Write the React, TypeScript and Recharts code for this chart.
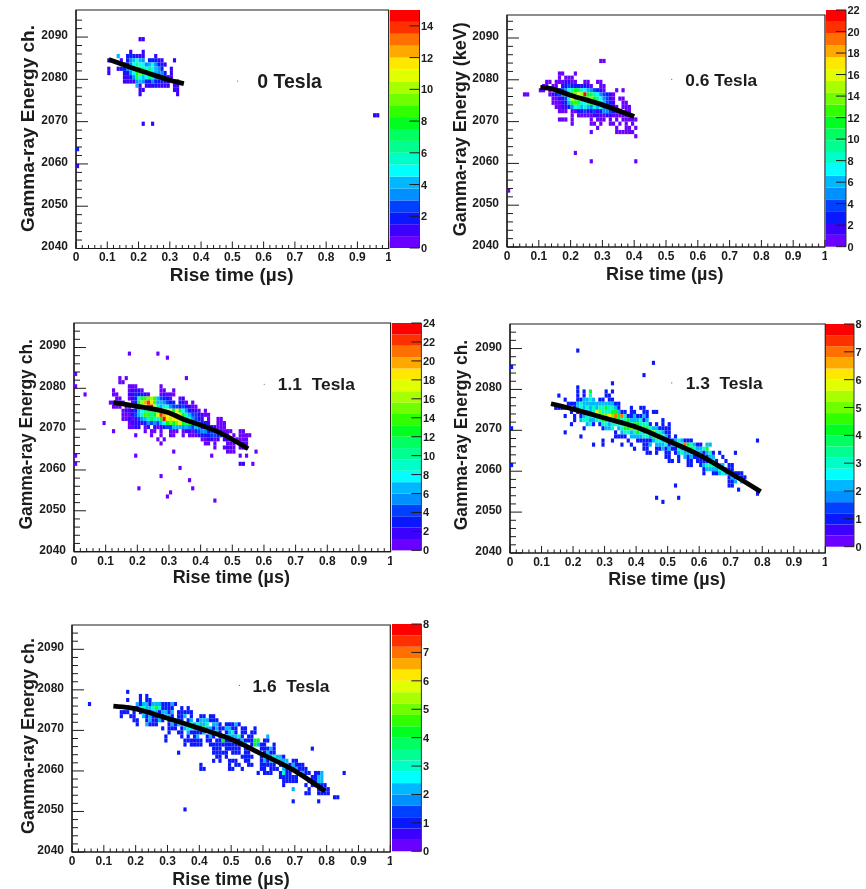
import React from 'react';
import { ScatterChart, Scatter, XAxis, YAxis, ReferenceArea, ReferenceDot, BarChart, Bar } from 'recharts';

// Each row: energy bin, then risetime-bin:count pairs (bin = hundredths of a microsecond)
const cells0T = [
  '2089 20:1 21:1', '2086 17:1 21:1', '2085 13:4 16:2 17:2 18:2 19:1 20:1 21:1 25:1',
  '2084 10:1 14:1 16:2 17:3 18:4 19:5 20:4 21:3 23:2 24:2 25:2 26:1 27:1 31:1',
  '2083 15:1 16:2 17:3 18:5 19:6 20:5 21:5 22:3 23:4 24:5 25:3 26:2 27:2 28:1',
  '2082 10:1 13:1 14:2 15:2 16:3 17:4 18:5 19:7 20:7 21:6 22:5 23:6 24:5 25:4 26:3 27:2 30:1',
  '2081 10:1 15:1 16:2 17:3 18:5 19:8 20:9 21:7 22:7 23:8 24:6 25:4 26:3 27:3 28:2 30:1',
  '2080 15:1 16:1 17:2 18:3 19:7 20:5 21:4 22:5 23:6 24:6 25:3 26:3 27:2 28:2 29:1 30:1',
  '2079 15:1 16:1 17:1 18:1 19:3 20:4 21:3 22:2 23:2 24:3 25:2 26:2 27:2 28:2 29:1 31:1 32:1',
  '2078 19:4 20:1 22:1 23:1 24:1 25:2 26:1 27:1 28:1 29:1 31:1 32:1',
  '2077 20:1 21:1 31:1 32:1', '2076 20:1 32:1', '2071 95:2 96:1', '2069 21:1 24:1', '2063 0:2', '2059 0:1',
];
const cells06T = [
  '2084 29:1 30:1', '2081 16:1 17:1 21:1', '2080 16:1 18:1 19:1 20:1',
  '2079 12:1 13:1 15:1 16:1 17:1 18:2 19:2 20:1 21:1 24:1 25:1 28:1 29:1',
  '2078 11:1 12:1 14:1 15:1 17:2 18:3 19:4 20:3 21:3 22:3 23:2 24:3 25:2 26:1 29:1 30:1',
  '2077 10:1 11:1 13:1 15:2 16:3 17:4 18:5 19:7 20:9 21:11 22:10 23:8 24:7 25:6 26:5 27:4 28:3 29:2 30:1 34:1 36:1',
  '2076 5:1 6:1 13:1 14:2 15:3 16:4 17:5 18:6 19:9 20:11 21:14 22:16 23:15 24:21 25:12 26:10 27:8 28:7 29:5 30:4 31:3 32:2 33:1',
  '2075 14:1 15:1 16:2 17:3 18:4 19:7 20:16 21:13 22:11 23:9 24:11 25:13 26:14 27:12 28:9 29:7 30:5 31:4 32:2 33:1 35:1 36:1',
  '2074 14:1 15:1 16:1 17:2 18:3 19:6 20:11 21:13 22:10 23:8 24:7 25:9 26:12 27:13 28:9 29:7 30:6 31:4 32:3 33:2 36:1 37:1',
  '2073 15:1 16:1 17:2 18:2 19:3 20:5 21:7 22:8 23:6 24:8 25:6 26:5 27:8 28:6 29:7 30:5 31:4 32:3 33:2 34:1 36:1 37:1 38:1',
  '2072 16:1 17:1 18:1 20:1 21:1 22:3 23:3 24:4 25:2 26:3 27:4 28:2 29:3 30:5 31:5 32:4 33:3 34:2 35:1 37:1 38:1',
  '2071 20:1 22:1 23:1 24:1 25:1 26:1 27:2 28:2 29:2 30:1 31:2 32:2 33:1 34:1 35:1 36:1 37:1 38:1',
  '2070 16:1 17:1 18:1 20:1 26:1 28:1 29:1 30:1 32:1 34:1 36:1 37:1 38:1 39:1 40:1',
  '2069 20:1 26:1 27:1 29:1 32:1 33:1 35:1 37:1 39:1', '2068 28:1 34:1 37:1 38:1 40:1',
  '2067 26:1 34:1 35:1 36:1 37:1 38:1 39:1', '2066 40:1', '2062 21:1', '2060 26:1 40:1', '2053 0:1',
];
const cells11T = [
  '2088 17:1 26:1', '2087 29:1', '2083 0:1', '2082 14:1 16:1 35:1', '2081 14:1 15:1',
  '2080 0:1 17:1 18:1 19:1 27:1', '2079 12:1 17:1 18:2 19:2 20:2 21:1 27:1 28:1 31:1',
  '2078 3:1 12:1 13:1 17:2 18:2 19:3 20:3 21:3 22:2 23:1 27:1 28:2 29:1 30:1 31:1',
  '2077 13:1 14:1 17:1 18:2 19:3 20:9 21:13 22:14 23:15 24:16 25:14 26:6 27:4 28:3 29:3 30:1 33:1 34:2',
  '2076 11:1 12:1 13:2 14:1 15:1 18:1 19:3 20:13 21:16 22:20 23:22 24:18 25:14 26:7 27:6 28:5 29:4 30:3 31:3 33:3 34:2 35:1 37:1',
  '2075 12:1 13:1 14:1 16:1 17:1 19:4 20:8 21:13 22:17 23:22 24:23 25:17 26:9 27:7 28:9 29:8 30:5 31:4 32:4 33:3 34:4 35:2 36:2 37:1 38:1',
  '2074 15:1 16:2 17:2 18:2 19:3 20:6 21:8 22:10 23:10 24:11 25:13 26:14 27:17 28:16 29:18 30:17 31:12 32:17 33:12 34:8 35:5 36:3 37:2 38:2 39:1 41:1',
  '2073 15:1 16:1 17:1 18:3 19:4 20:6 21:9 22:14 23:14 24:10 25:13 26:17 27:22 28:20 29:18 30:18 31:17 32:19 33:19 34:12 35:9 36:6 37:4 38:4 39:2 40:2 41:1 42:1',
  '2072 15:1 16:1 17:2 18:1 19:2 20:4 21:5 22:7 23:9 24:11 25:9 26:9 27:13 28:23 29:18 30:16 31:18 32:18 33:16 34:14 35:12 36:9 37:5 38:4 39:3 40:2 42:1 45:1 46:1',
  '2071 9:1 17:1 18:2 19:2 20:3 21:2 22:3 23:5 24:4 25:5 26:4 27:6 28:8 29:12 30:15 31:13 32:15 33:18 34:12 35:10 36:12 37:9 38:8 39:5 40:3 41:3 42:2 45:1 46:1 47:1',
  '2070 17:1 18:1 19:2 20:2 22:1 23:2 25:2 26:1 27:2 28:3 29:4 30:4 31:6 32:6 33:7 34:5 35:6 36:5 37:4 38:6 39:5 40:4 41:3 42:2 43:2 44:2 45:1 46:1 47:1',
  '2069 12:1 22:1 24:1 25:1 27:1 30:1 31:1 32:1 34:1 35:2 36:2 37:1 38:3 39:4 40:5 41:5 42:3 43:4 44:3 45:2 46:2 47:1 48:1 49:1 52:1 53:1',
  '2068 19:1 24:1 27:1 30:1 31:1 34:1 36:1 37:1 38:1 39:2 40:3 41:3 42:3 43:4 44:4 45:3 46:3 47:2 48:2 50:1 52:1 53:1 54:1 55:1',
  '2067 26:1 28:1 40:1 41:1 42:2 43:2 44:1 45:2 47:2 48:2 49:1 51:1 52:1 53:1 54:1',
  '2066 27:1 41:1 42:1 44:1 48:1 49:1 50:1 52:1 53:2 54:1', '2065 44:1 47:1 48:2 49:2 50:1 52:1 53:2 54:1',
  '2064 31:1 48:1 49:1 50:1 57:1', '2063 0:1 19:1 43:1 52:1 54:1', '2061 0:1 52:2 53:2 56:1', '2060 33:1',
  '2058 27:1', '2057 36:1', '2055 20:1 37:1', '2054 30:1', '2053 29:1', '2052 44:1',
];
const cells13T = [
  '2089 21:1', '2086 45:1', '2085 0:1', '2083 42:1', '2081 32:1', '2080 21:1', '2079 21:1 23:1 25:4 30:1 32:1',
  '2078 15:1 21:1 23:1 25:3 30:1 31:1', '2077 17:1 21:1 22:1 23:2 24:2 25:3 26:2 28:1 29:1 31:1 32:1',
  '2076 18:1 19:1 20:1 21:2 22:3 23:2 24:2 25:2 26:2 27:2 28:2 29:2 30:2 31:2 32:2 33:1 34:1',
  '2075 14:1 15:1 16:1 17:1 20:1 21:2 22:3 23:2 24:3 25:2 26:3 27:2 28:3 29:3 30:4 31:3 32:3 33:2 34:1 38:1 41:1 42:1',
  '2074 19:1 21:1 22:2 23:3 24:2 25:2 26:3 27:6 28:5 29:3 30:3 31:3 32:4 33:4 34:2 35:1 36:1 38:1 39:1 42:1 43:1 45:1 46:1',
  '2073 17:1 20:1 22:1 23:2 24:3 25:3 26:3 27:4 28:4 29:5 30:5 31:6 32:5 33:7 34:4 35:7 36:3 37:1 38:1 39:2 40:1 41:1 42:2 43:1',
  '2072 20:1 22:2 23:3 24:3 25:2 26:2 27:3 28:3 29:4 30:4 31:4 32:4 33:5 34:4 35:3 36:3 37:4 38:2 39:2 40:2 41:3 42:1 43:2 48:1',
  '2071 19:1 24:2 25:3 26:1 28:1 29:3 30:3 31:2 32:3 33:3 34:3 35:3 36:3 37:3 38:3 39:4 40:4 41:3 42:3 43:3 44:1 46:1 48:1 50:1',
  '2070 0:1 23:1 29:1 30:2 31:2 32:3 34:2 35:3 36:4 37:4 38:5 39:4 40:6 41:4 42:4 43:4 44:3 45:2 46:2 47:1 48:1 49:1 50:1',
  '2069 17:1 33:1 35:2 36:3 37:3 38:2 39:3 40:4 41:3 42:2 43:3 44:4 45:5 46:3 47:3 48:2 49:1 50:1',
  '2068 22:1 33:1 34:1 35:1 36:1 38:2 39:2 40:2 41:2 42:3 43:3 44:2 45:4 46:7 47:4 48:3 49:2 50:1 52:1',
  '2067 29:1 32:1 37:1 40:1 41:1 42:1 43:1 44:1 45:2 46:3 47:3 48:2 49:2 50:1 51:1 52:2 53:3 54:2 55:1 56:1 57:1 78:1',
  '2066 26:1 29:1 35:1 38:1 42:1 43:1 44:2 46:2 47:2 48:2 49:3 50:1 51:2 52:2 53:2 54:3 55:7 56:4 57:3 58:2 59:1 60:1 62:2 63:2',
  '2065 39:1 42:1 43:1 46:1 47:1 48:2 49:1 50:2 51:1 52:1 53:3 54:2 55:3 56:3 57:4 58:3 59:2 60:2 61:3 62:4',
  '2064 43:1 44:1 46:1 49:1 50:1 52:1 53:2 54:3 55:2 56:2 57:2 58:3 59:3 60:2 61:1 62:2 63:3 64:1 66:1 71:1',
  '2063 49:1 50:1 53:1 55:2 56:1 57:2 58:1 59:1 60:1 62:1 63:2 64:2 67:1',
  '2062 50:1 51:1 53:1 56:1 57:1 59:1 60:1 61:1 62:1 63:1 64:3 65:1 68:1',
  '2061 0:1 56:1 57:1 60:1 61:2 62:3 63:3 64:3 65:2 66:2 67:2 69:1 70:1',
  '2060 61:1 62:2 63:2 64:2 65:2 66:3 67:2 68:2 69:1 70:1',
  '2059 61:1 64:1 65:1 66:2 67:3 68:2 69:2 70:1 71:1 72:1 73:1',
  '2058 69:1 70:2 71:1 72:2 73:1 74:1', '2057 69:1 70:1 71:2 73:2', '2056 52:1 69:1 70:1', '2055 72:1', '2054 78:1',
  '2053 46:1 53:1', '2052 48:1',
];
const cells16T = [
  '2079 17:1', '2078 21:1 23:1', '2077 17:1 21:1 23:1 24:1',
  '2076 5:1 20:2 21:1 22:2 23:2 24:1 25:2 26:2 27:2 28:1 29:1 30:1 31:2 32:1',
  '2075 19:1 20:1 21:3 22:3 23:2 24:2 25:3 26:4 27:3 28:1 29:1 30:1 31:1 34:1 36:1',
  '2074 15:1 16:1 17:1 19:1 21:1 22:2 23:1 24:1 25:2 26:2 27:1 28:2 29:2 30:1 31:2 33:1 34:1 35:1 36:1 37:1',
  '2073 15:1 18:1 19:1 22:2 23:1 24:2 25:1 26:1 27:3 28:1 29:2 30:2 31:1 33:1 34:1 35:2 37:1 40:1 41:1 43:1 44:1',
  '2072 19:1 20:1 23:1 24:2 25:1 26:1 27:2 28:1 30:1 31:1 32:2 33:1 34:1 36:1 37:2 39:1 40:2 41:2 42:2 43:1 44:1 45:1',
  '2071 20:1 23:2 24:1 25:1 26:1 30:1 31:2 32:1 33:2 34:2 35:3 36:1 37:3 38:2 39:3 40:2 41:2 42:3 44:2 45:2 46:1 48:1 49:1 50:1 51:2 52:1',
  '2070 28:1 30:1 31:1 32:1 34:1 35:2 36:3 37:3 38:4 39:3 40:4 41:4 42:2 43:2 44:1 45:2 46:1 47:1 48:2 49:2 50:1 51:1 53:1 54:1 57:1',
  '2069 30:1 33:1 34:1 36:2 37:1 38:1 39:1 40:1 41:2 43:2 44:2 45:2 46:1 48:1 49:2 50:3 51:1 53:1 54:1 56:1 57:1',
  '2068 29:1 34:1 36:1 38:1 39:2 42:1 43:2 44:1 46:1 47:1 48:2 49:2 50:2 51:2 52:3 53:1 55:1 56:1 61:2',
  '2067 29:1 35:1 36:1 37:1 38:1 39:1 40:1 42:1 43:1 45:1 46:1 47:4 48:1 49:1 50:2 51:1 52:1 53:2 54:1 55:1 56:1 57:4 58:4 60:1 61:1',
  '2066 35:1 37:1 38:1 39:1 40:1 43:1 44:1 45:1 46:1 47:1 48:1 49:1 50:1 51:1 52:1 53:1 54:2 56:1 57:4 58:2 59:1 60:1 63:1',
  '2065 44:1 45:1 46:1 48:1 49:1 50:1 51:1 52:1 54:1 55:1 59:1 60:1 61:1 62:2 63:1 75:1',
  '2064 33:1 44:1 45:1 46:1 47:1 48:1 50:1 51:1 52:1 54:1 55:1 60:1 61:2 62:1 63:1',
  '2063 45:1 46:1 48:1 53:1 54:1 55:1 56:1 59:1 60:2 61:2 62:2 63:3 64:2 65:2 66:1',
  '2062 44:1 46:1 49:1 50:1 51:1 54:1 55:1 59:1 60:2 61:1 62:2 63:2 64:3 65:2 66:2 67:2 69:1 70:1',
  '2061 40:1 49:1 51:1 52:1 55:1 56:1 59:1 60:1 61:1 62:1 63:1 65:1 66:2 67:2 68:1 69:2 70:1 71:1 72:1',
  '2060 40:1 41:1 49:1 50:1 53:1 59:1 60:1 62:1 63:1 64:1 66:2 67:1 68:1 69:1 70:2 71:1 72:1 73:1',
  '2059 58:1 60:1 61:1 62:1 65:1 66:3 67:1 68:1 72:2 73:1 74:1 76:1 77:1 78:2 85:1',
  '2058 65:1 66:1 67:1 68:1 69:1 70:1 75:1 76:1 77:2 78:2', '2057 66:1 67:1 68:1 69:1 70:1 74:1 75:1 76:1 77:2 78:2',
  '2056 66:1 73:1 75:1 76:1 77:1 78:1 79:1', '2055 69:2 74:1 77:1 78:1 79:1 80:1', '2054 73:1 74:1 77:1 78:1 79:1 80:1',
  '2053 82:1 83:1', '2052 69:1 77:1', '2050 35:1',
];

const fit0T = [[0.105, 2084.7], [0.15, 2083.5], [0.2, 2082.2], [0.25, 2081], [0.3, 2079.8], [0.345, 2079]];
const fit06T = [[0.105, 2078.2], [0.13, 2078], [0.2, 2076.3], [0.3, 2074], [0.4, 2071.2]];
const fit11T = [[0.125, 2076.5], [0.2, 2075.6], [0.3, 2074], [0.35, 2072.3], [0.4, 2071], [0.45, 2069.5], [0.5, 2067.5], [0.55, 2065.2]];
const fit13T = [[0.13, 2076.5], [0.2, 2075.2], [0.3, 2073], [0.4, 2070.8], [0.5, 2067.5], [0.6, 2064], [0.7, 2059.5], [0.795, 2055]];
const fit16T = [[0.13, 2076], [0.18, 2075.6], [0.3, 2073], [0.4, 2070.5], [0.5, 2067.8], [0.6, 2064], [0.7, 2060], [0.795, 2055]];

const palette = ['#6a00ff', '#3c00ff', '#0a18ff', '#0040ff', '#0090ff', '#00b8ff', '#00ffff', '#00ffc8', '#00ff90', '#00ff60',
  '#00ff20', '#30ff00', '#70ff00', '#a8ff00', '#e0ff00', '#ffe800', '#ffa800', '#ff7000', '#ff3000', '#ff0000'];

const riseTicks = [0, 0.02, 0.04, 0.06, 0.08, 0.1, 0.12, 0.14, 0.16, 0.18, 0.2, 0.22, 0.24, 0.26, 0.28, 0.3, 0.32, 0.34, 0.36, 0.38, 0.4, 0.42, 0.44, 0.46, 0.48, 0.5, 0.52, 0.54, 0.56, 0.58, 0.6, 0.62, 0.64, 0.66, 0.68, 0.7, 0.72, 0.74, 0.76, 0.78, 0.8, 0.82, 0.84, 0.86, 0.88, 0.9, 0.92, 0.94, 0.96, 0.98, 1];
const energyTicks = [2040, 2042, 2044, 2046, 2048, 2050, 2052, 2054, 2056, 2058, 2060, 2062, 2064, 2066, 2068, 2070, 2072, 2074, 2076, 2078, 2080, 2082, 2084, 2086, 2088, 2090, 2092, 2094];
const zTicks15 = [0, 2, 4, 6, 8, 10, 12, 14];
const zTicks22 = [0, 2, 4, 6, 8, 10, 12, 14, 16, 18, 20, 22];
const zTicks24 = [0, 2, 4, 6, 8, 10, 12, 14, 16, 18, 20, 22, 24];
const zTicks8 = [0, 1, 2, 3, 4, 5, 6, 7, 8];

const panels = [
  { cells: cells0T, fit: fit0T, zMax: 15, zTicks: zTicks15, label: '0 Tesla', yTitle: 'Gamma-ray Energy ch.', dot: [0.517, 2079.6], labelGap: 19, labelSize: 19.5,
    px: 76.3, py: 9.5, pw: 312.7, ph: 238.5, yMax: 2096.4, bar: [389.5, 10, 29.5, 238], xt: [232, 281, 19], yt: [34, 128, 19] },
  { cells: cells06T, fit: fit06T, zMax: 22, zTicks: zTicks22, label: '0.6 Tesla', yTitle: 'Gamma-ray Energy (keV)', dot: [0.518, 2080.1], labelGap: 13, labelSize: 17.3,
    px: 507.3, py: 14.7, pw: 318, ph: 232, yMax: 2095.5, bar: [825.5, 10, 20, 236.7], xt: [665, 280, 18], yt: [466, 129, 18] },
  { cells: cells11T, fit: fit11T, zMax: 24, zTicks: zTicks24, label: '1.1\u00A0\u00A0Tesla', yTitle: 'Gamma-ray Energy ch.', dot: [0.601, 2081], labelGap: 13, labelSize: 17.4,
    px: 73.7, py: 322.7, pw: 316.6, ph: 228.6, yMax: 2096, bar: [392.3, 323.3, 29.4, 227.4], xt: [231, 583, 18], yt: [32, 434, 17.5] },
  { cells: cells13T, fit: fit13T, zMax: 8, zTicks: zTicks8, label: '1.3\u00A0\u00A0Tesla', yTitle: 'Gamma-ray Energy ch.', dot: [0.513, 2081.6], labelGap: 13.3, labelSize: 17.4,
    px: 510, py: 324, pw: 315.3, ph: 229, yMax: 2096, bar: [825.5, 324, 28, 222.7], xt: [667, 585, 18], yt: [467, 435, 17.5] },
  { cells: cells16T, fit: fit16T, zMax: 8, zTicks: zTicks8, label: '1.6\u00A0\u00A0Tesla', yTitle: 'Gamma-ray Energy ch.', dot: [0.526, 2081.1], labelGap: 12.4, labelSize: 17.4,
    px: 72, py: 625, pw: 318.3, ph: 227, yMax: 2096, bar: [392.3, 624, 29.4, 227.3], xt: [231, 885, 18], yt: [34, 736, 18] },
];

const FONT = '"Liberation Sans", Arial, sans-serif';
const INK = '#1c1c1c';
const parseCells = (rows: string[]) => rows.flatMap((row) => {
  const [e, ...pairs] = row.split(' ');
  return pairs.map((p) => {
    const [b, c] = p.split(':');
    return { x: (Number(b) + 0.5) / 100, y: Number(e) + 0.5, count: Number(c) };
  });
});

const LEFT = 70;
const TOP = 6;
const BOTTOM = 50;
const BAR_PAD = 8;

function Panel({ p }: { p: typeof panels[number] }) {
  const data = parseCells(p.cells);
  const fit = p.fit.map(([x, y]) => ({ x, y }));
  const cw = p.pw / 100;
  const ch = p.ph / (p.yMax - 2040);
  const color = (c: number) => palette[Math.min(19, Math.floor((c / p.zMax) * 20))];
  const ox = p.px - LEFT;
  const oy = p.py - TOP;
  const XTick = (t: any) => {
    const v = t.payload.value;
    const major = Math.round(v * 100) % 10 === 0;
    return (
      <g>
        <line x1={t.x} x2={t.x} y1={t.y} y2={t.y - (major ? 7 : 3.5)} stroke={INK} strokeWidth={1} />
        {major && <text x={t.x} y={t.y + 13} textAnchor="middle" fontSize={12} fontWeight={700} fontFamily={FONT} fill={INK}>{String(Number(v.toFixed(1)))}</text>}
      </g>
    );
  };
  const YTick = (t: any) => {
    const v = t.payload.value;
    const major = v % 10 === 0;
    return (
      <g>
        <line x1={t.x} x2={t.x + (major ? 12 : 6)} y1={t.y} y2={t.y} stroke={INK} strokeWidth={1} />
        {major && <text x={t.x - 8} y={t.y + 2} textAnchor="end" fontSize={12} fontWeight={700} fontFamily={FONT} fill={INK}>{v}</text>}
      </g>
    );
  };
  const [bx, by, bw, bh] = p.bar;
  const slices = palette.map((_, i) => `k${i}`);
  const row = [Object.fromEntries(slices.map((k) => [k, p.zMax / 20]))];
  const BarTick = (t: any) => (
    <g>
      <line x1={t.x - 10} x2={t.x} y1={t.y} y2={t.y} stroke={INK} strokeWidth={1} />
      <text x={t.x + 1.5} y={t.y + 4} fontSize={11} fontWeight={700} fontFamily={FONT} fill={INK}>{t.payload.value}</text>
    </g>
  );
  return (
    <>
      <div style={{ position: 'absolute', left: ox, top: oy }}>
        <ScatterChart width={LEFT + p.pw + 2} height={TOP + p.ph + BOTTOM} margin={{ top: TOP, right: 2, bottom: 0, left: 0 }}>
          <XAxis type="number" dataKey="x" domain={[0, 1]} ticks={riseTicks} interval={0} height={BOTTOM} tick={XTick} tickLine={false} tickSize={0} tickMargin={0} axisLine={{ stroke: INK, strokeWidth: 1.2 }} allowDataOverflow
            label={{ content: () => (
              <text x={p.xt[0] - ox} y={p.xt[1] - oy} textAnchor="middle" fontSize={p.xt[2]} fontWeight={700} fontFamily={FONT} fill={INK}>Rise time (µs)</text>
            ) }} />
          <YAxis type="number" dataKey="y" domain={[2040, p.yMax]} ticks={energyTicks} interval={0} width={LEFT} tick={YTick} tickLine={false} tickSize={0} tickMargin={0} axisLine={{ stroke: INK, strokeWidth: 1.2 }} allowDataOverflow
            label={{ content: () => (
              <text transform={`translate(${p.yt[0] - ox},${p.yt[1] - oy}) rotate(-90)`} textAnchor="middle" fontSize={p.yt[2]} fontWeight={700} fontFamily={FONT} fill={INK}>{p.yTitle}</text>
            ) }} />
          <ReferenceArea x1={0} x2={1} y1={2040} y2={p.yMax} fill="none" stroke={INK} strokeWidth={1.2} ifOverflow="visible" />
          <Scatter data={data} isAnimationActive={false} shape={(s: any) => (
            <rect x={s.cx - cw / 2} y={s.cy - ch / 2} width={cw} height={ch} fill={color(s.payload.count)} />
          )} />
          <Scatter data={fit} isAnimationActive={false} line={{ stroke: '#000', strokeWidth: 4.8 }} lineJointType="monotoneX" shape={() => <g />} />
          <ReferenceDot x={p.dot[0]} y={p.dot[1]} r={0.6} fill="#666" stroke="none"
            label={{ value: p.label, position: 'right', offset: p.labelGap, fontSize: p.labelSize, fontWeight: 700, fontFamily: FONT, fill: INK }} />
        </ScatterChart>
      </div>
      <div style={{ position: 'absolute', left: bx, top: by - BAR_PAD }}>
        <BarChart width={bw + 20} height={bh + 2 * BAR_PAD} data={row} margin={{ top: BAR_PAD, right: 0, bottom: BAR_PAD, left: 0 }} barCategoryGap={0}>
          <XAxis hide />
          <YAxis orientation="right" type="number" domain={[0, p.zMax]} ticks={p.zTicks} interval={0} width={20} tick={BarTick} tickLine={false} tickSize={0} tickMargin={0} axisLine={{ stroke: '#333', strokeWidth: 1 }} />
          {slices.map((k, i) => (
            <Bar key={k} dataKey={k} stackId="z" fill={palette[i]} isAnimationActive={false} />
          ))}
        </BarChart>
      </div>
    </>
  );
}

export default function App() {
  return (
    <div style={{ position: 'absolute', left: 0, top: 0, width: 866, height: 889, overflow: 'hidden', background: '#fff', filter: 'blur(0.45px)' }}>
      {panels.map((p) => <Panel key={p.label} p={p} />)}
    </div>
  );
}
